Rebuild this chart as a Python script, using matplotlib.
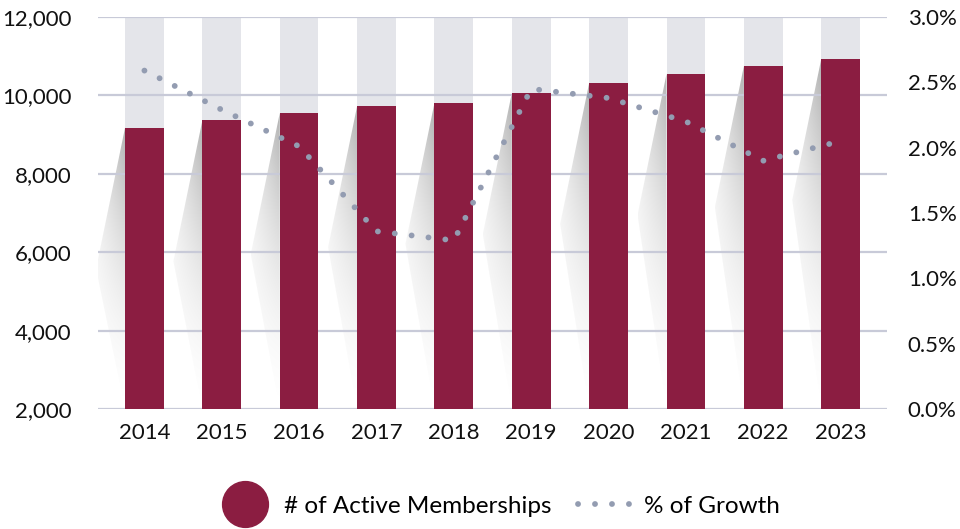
"""
Active memberships (bars) vs % growth (dotted line), 2014-2023
"""

import matplotlib
matplotlib.use('Agg')
import matplotlib.pyplot as plt
import numpy as np
from matplotlib.patches import Polygon
from matplotlib.lines import Line2D
from matplotlib.ticker import FuncFormatter, MultipleLocator

# ------------ DATA -------------- #
years = ['2014', '2015', '2016', '2017', '2018', '2019', '2020', '2021', '2022', '2023']
members = [9180, 9370, 9550, 9730, 9810, 10060, 10320, 10550, 10750, 10930]
growth = [2.59, 2.29, 2.01, 1.36, 1.29, 2.45, 2.38, 2.20, 1.90, 2.05]  # percent

y_min, y_max = 2000, 12000
g_min, g_max = 0.0, 3.0

# ------------ STYLE -------------- #
bar_col = '#8B1D41'
col_bg = '#E4E5EA'
grid_col = '#C8CAD8'
dot_col = '#939CB1'
txt_col = '#111111'
plt.rcParams['font.family'] = ['Lato', 'DejaVu Sans']

fig = plt.figure(figsize=(9.6, 5.29), dpi=100)
ax = fig.add_axes([98 / 960, 120 / 529, (887 - 98) / 960, (409 - 17) / 529])
ax2 = ax.twinx()

x = np.arange(len(years))
width = 0.5

# gray background columns up to the top of the axis
ax.bar(x, y_max - y_min, bottom=y_min, width=width, color=col_bg, zorder=0.5)

# gradient "shadow" to the left of each bar
ny, nx = 200, 60
uu, vv = np.meshgrid(np.linspace(0, 1, nx), np.linspace(0, 1, ny))
for xi, val in zip(x, members):
    x0 = xi - width / 2
    xl = x0 - 0.375
    verts = [(x0, val), (xl, val - 3600), (x0, y_min)]
    poly = Polygon(verts, closed=True, transform=ax.transData,
                   facecolor='none', edgecolor='none')
    img = np.zeros((ny, nx, 4))
    img[..., :3] = 0.5
    img[..., 3] = 0.62 * vv ** 1.6 * (0.3 + 0.7 * uu)
    im = ax.imshow(img, extent=[xl, x0, y_min, val], origin='lower',
                   aspect='auto', interpolation='bilinear', zorder=1)
    im.set_clip_path(poly)

ax.bar(x, np.array(members) - y_min, bottom=y_min, width=width,
       color=bar_col, zorder=2)

ax.set_xlim(-0.6, len(years) - 0.4)
ax.set_ylim(y_min, y_max)
ax.yaxis.set_major_locator(MultipleLocator(2000))
ax.yaxis.set_major_formatter(FuncFormatter(lambda v, p: f'{int(v):,}'))
ax.grid(axis='y', color=grid_col, linewidth=1.6)
ax.yaxis.set_zorder(1.5)
ax.set_xticks(x)
ax.set_xticklabels(years)
ax.tick_params(axis='x', length=0, pad=10, labelsize=16, labelcolor=txt_col)
ax.tick_params(axis='y', length=0, pad=19, labelsize=16, labelcolor=txt_col)

# growth line on the right axis
dots = (0, (0.01, 2.9))
ax2.plot(x, growth, color=dot_col, linewidth=4.2,
         linestyle=dots, dash_capstyle='round', zorder=3)
ax2.set_ylim(g_min, g_max)
ax2.yaxis.set_major_locator(MultipleLocator(0.5))
ax2.yaxis.set_major_formatter(FuncFormatter(lambda v, p: f'{v:.1f}%'))
ax2.tick_params(axis='y', length=0, pad=15, labelsize=16, labelcolor=txt_col)

for a in (ax, ax2):
    for s in a.spines.values():
        s.set_visible(False)

# legend
handles = [
    Line2D([], [], marker='o', markersize=33, color=bar_col, linestyle='none'),
    Line2D([], [], color=dot_col, linewidth=4.2, linestyle=dots,
           dash_capstyle='round'),
]
fig.legend(handles, ['# of Active Memberships', '% of Growth'],
           loc='center', bbox_to_anchor=(0.52, 0.043), ncol=2, frameon=False,
           fontsize=17.5, handlelength=2.2, handletextpad=0.5, columnspacing=1.1)

fig.savefig('out.png', dpi=100)
